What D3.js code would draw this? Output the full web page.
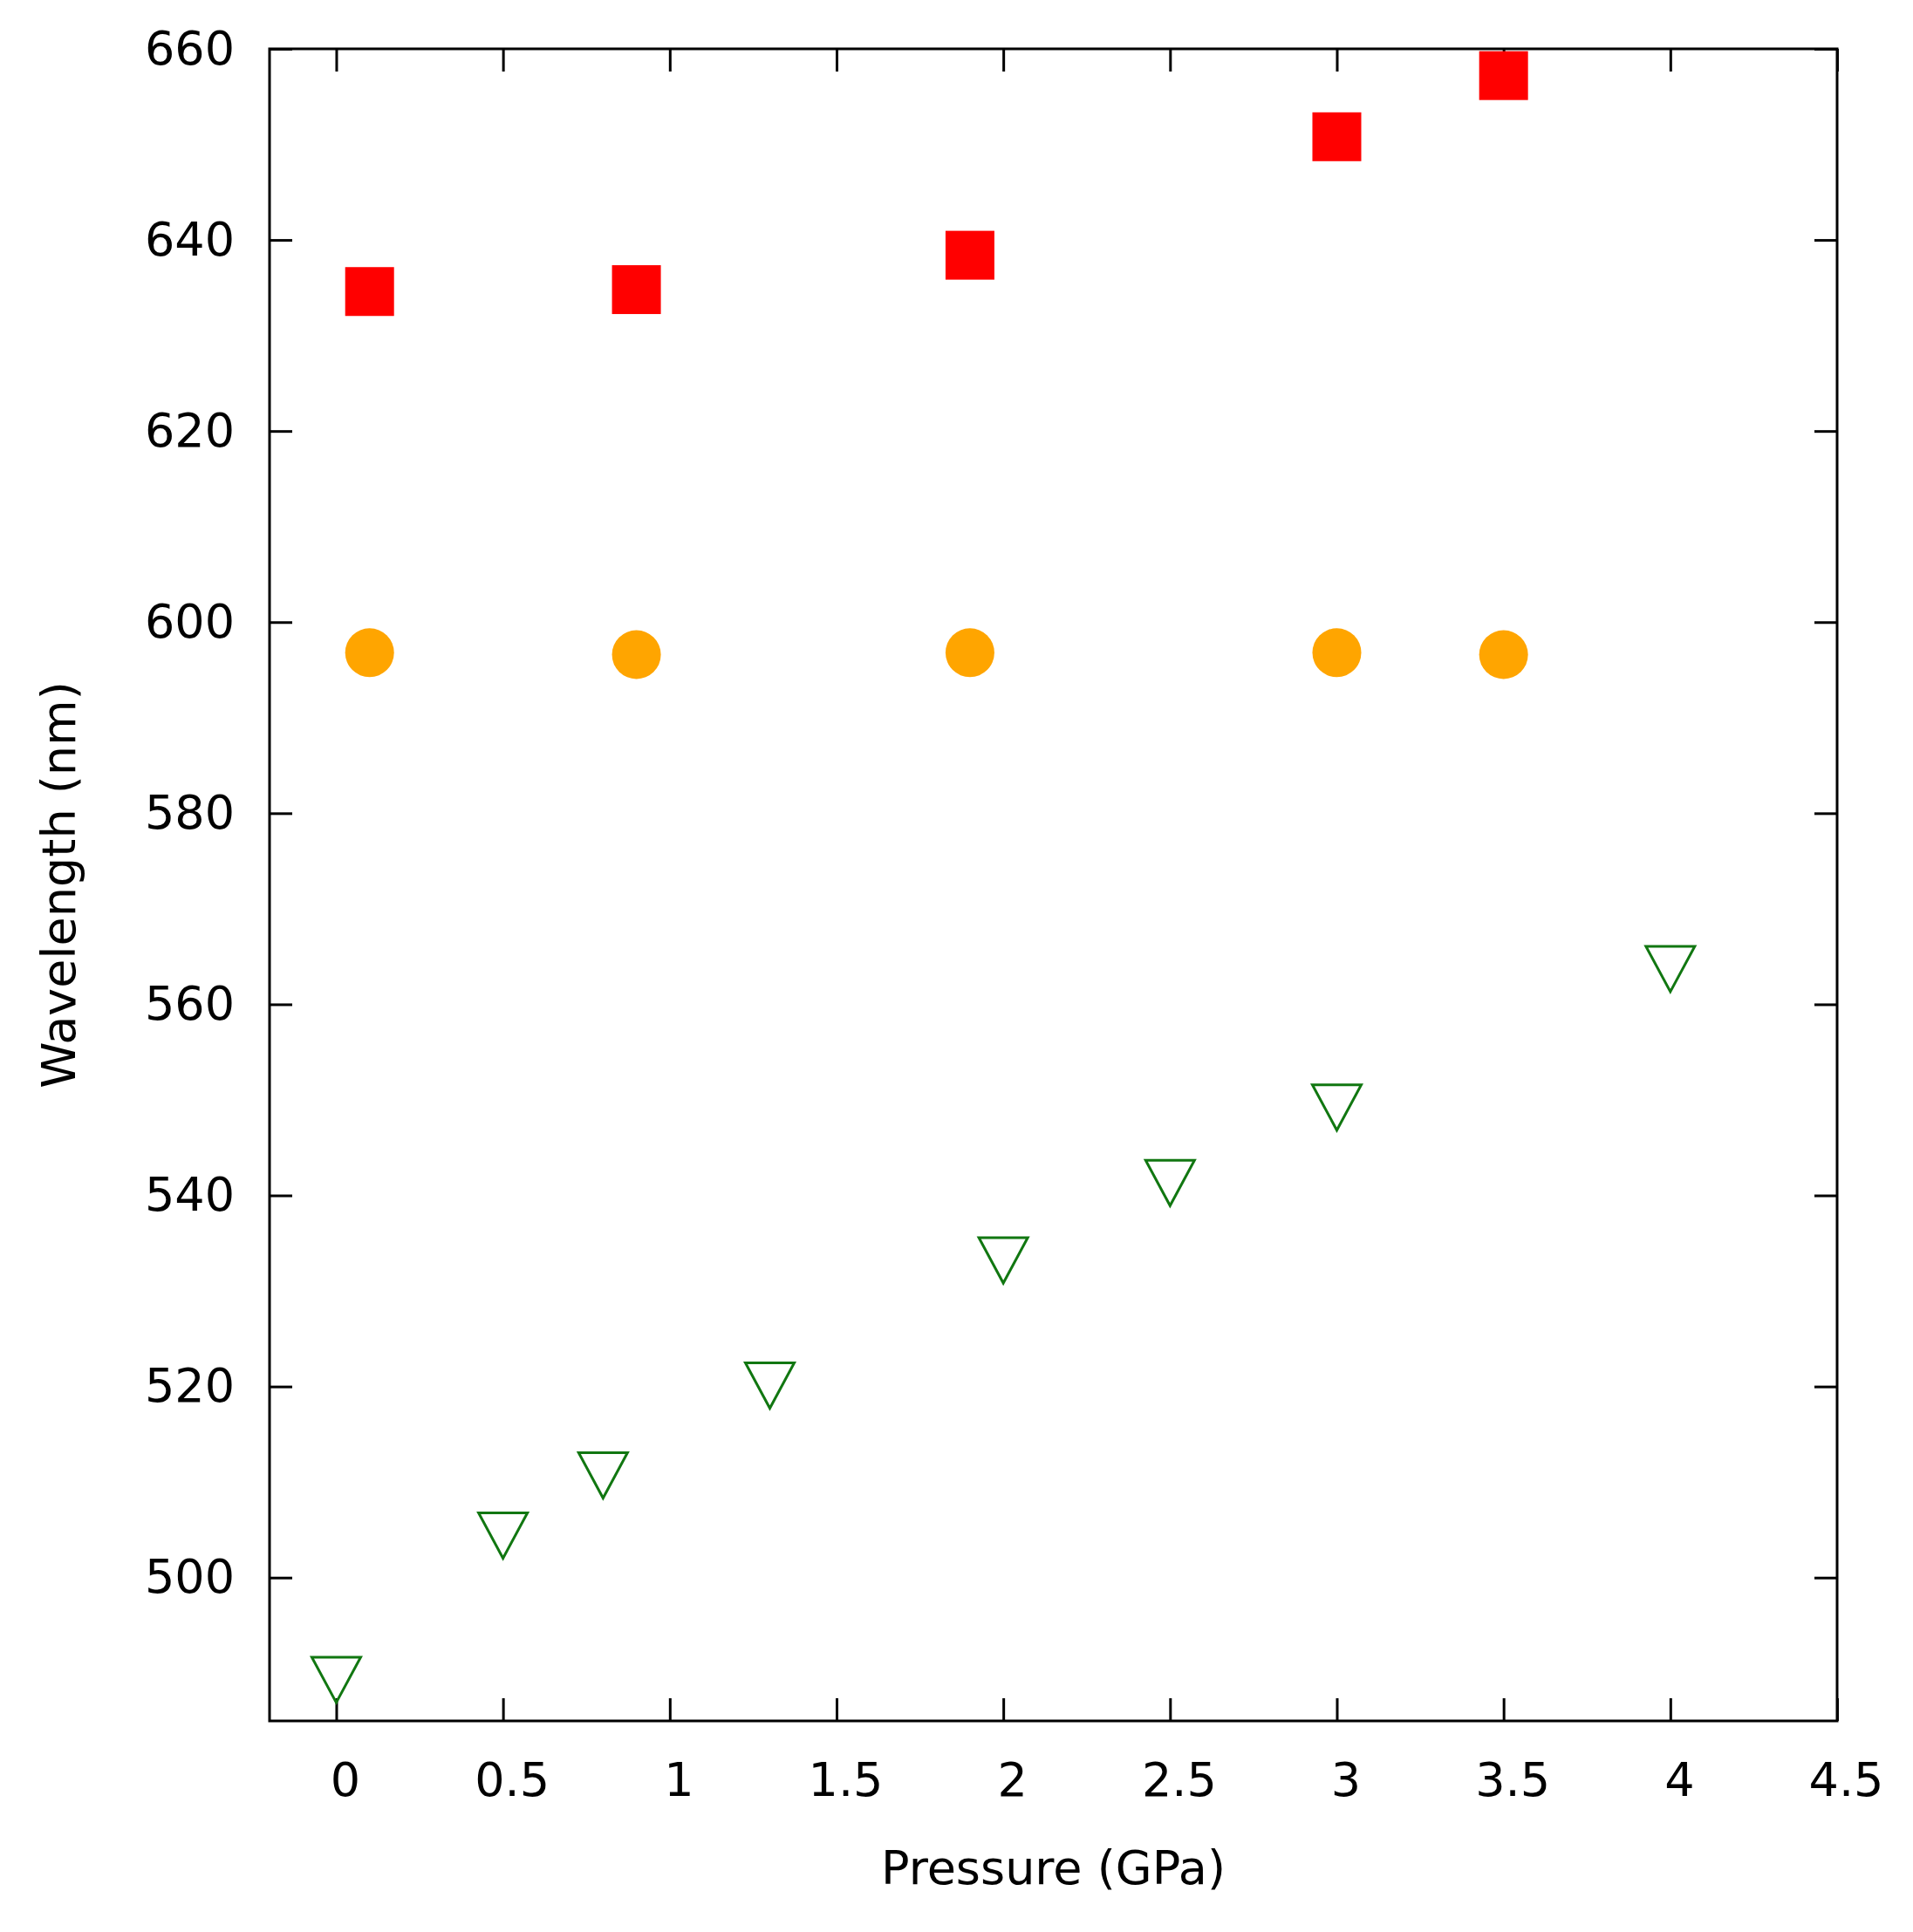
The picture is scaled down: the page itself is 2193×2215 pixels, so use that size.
<!DOCTYPE html>
<html><head><meta charset="utf-8">
<script src="https://d3js.org/d3.v7.min.js"></script>
<style>body{margin:0;background:#fff}text{font-family:"DejaVu Sans",sans-serif;fill:#000}</style>
</head><body>
<svg id="chart" width="2193" height="2215"></svg>
<script>
var redX = [0.1, 0.9, 1.9, 3.0, 3.5];
var redY = [634.6, 634.8, 638.4, 650.8, 657.2];
var orangeX = [0.1, 0.9, 1.9, 3.0, 3.5];
var orangeY = [596.8, 596.6, 596.8, 596.8, 596.6];
var greenX = [0, 0.5, 0.8, 1.3, 2.0, 2.5, 3.0, 4.0];
var greenY = [489.3, 504.4, 510.7, 520.1, 533.2, 541.3, 549.2, 563.7];
var xTicks = [0, 0.5, 1, 1.5, 2, 2.5, 3, 3.5, 4, 4.5];
var yTicks = [500, 520, 540, 560, 580, 600, 620, 640, 660];

var svg = d3.select("#chart");
var L = 309, R = 2106, T = 56, B = 1973;
var x = d3.scaleLinear().domain([-0.2, 4.5]).range([L, R]);
var y = d3.scaleLinear().domain([485, 660]).range([B, T]);

// axes, ticks inside and mirrored
function axisStyle(g){ g.select(".domain").remove(); g.selectAll("line").attr("stroke", "#000").attr("stroke-width", 3); g.selectAll("text").attr("font-size", 54).attr("fill", "#000"); }
svg.append("g").attr("transform", "translate(0," + B + ")")
    .call(d3.axisBottom(x).tickValues(xTicks).tickSize(-26).tickPadding(48).tickFormat(d3.format("")))
    .call(axisStyle).selectAll("text").attr("dx", 10).attr("font-family", "DejaVu Sans");
svg.append("g").attr("transform", "translate(0," + T + ")")
    .call(d3.axisTop(x).tickValues(xTicks).tickSize(-26).tickFormat(""))
    .call(axisStyle);
svg.append("g").attr("transform", "translate(" + L + ",0)")
    .call(d3.axisLeft(y).tickValues(yTicks).tickSize(-26).tickPadding(40))
    .call(axisStyle).selectAll("text").attr("font-family", "DejaVu Sans");
svg.append("g").attr("transform", "translate(" + R + ",0)")
    .call(d3.axisRight(y).tickValues(yTicks).tickSize(-26).tickFormat(""))
    .call(axisStyle);
svg.append("rect").attr("x", L).attr("y", T).attr("width", R - L).attr("height", B - T)
    .attr("fill", "none").attr("stroke", "#000").attr("stroke-width", 3);

// points
svg.append("g").selectAll("rect").data(redX).enter().append("rect")
    .attr("x", function(d){ return x(d) - 28; })
    .attr("y", function(d, i){ return y(redY[i]) - 28; })
    .attr("width", 56).attr("height", 56).attr("fill", "#ff0000");
svg.append("g").selectAll("circle").data(orangeX).enter().append("circle")
    .attr("cx", function(d){ return x(d); })
    .attr("cy", function(d, i){ return y(orangeY[i]); })
    .attr("r", 28).attr("fill", "#ffa500");
svg.append("g").selectAll("path").data(greenX).enter().append("path")
    .attr("d", function(d, i){
        var cx = x(d), cy = y(greenY[i]);
        return "M" + (cx - 28) + "," + (cy - 26) + "L" + (cx + 28) + "," + (cy - 26) + "L" + cx + "," + (cy + 26) + "Z";
    })
    .attr("fill", "none").attr("stroke", "#117711").attr("stroke-width", 3);

// labels
svg.append("text").attr("x", (L + R) / 2).attr("y", 2160).attr("text-anchor", "middle")
    .attr("font-size", 54).text("Pressure (GPa)");
svg.append("text").attr("transform", "translate(86," + (T + B) / 2 + ") rotate(-90)")
    .attr("text-anchor", "middle").attr("font-size", 54).text("Wavelength (nm)");
</script>
</body></html>
